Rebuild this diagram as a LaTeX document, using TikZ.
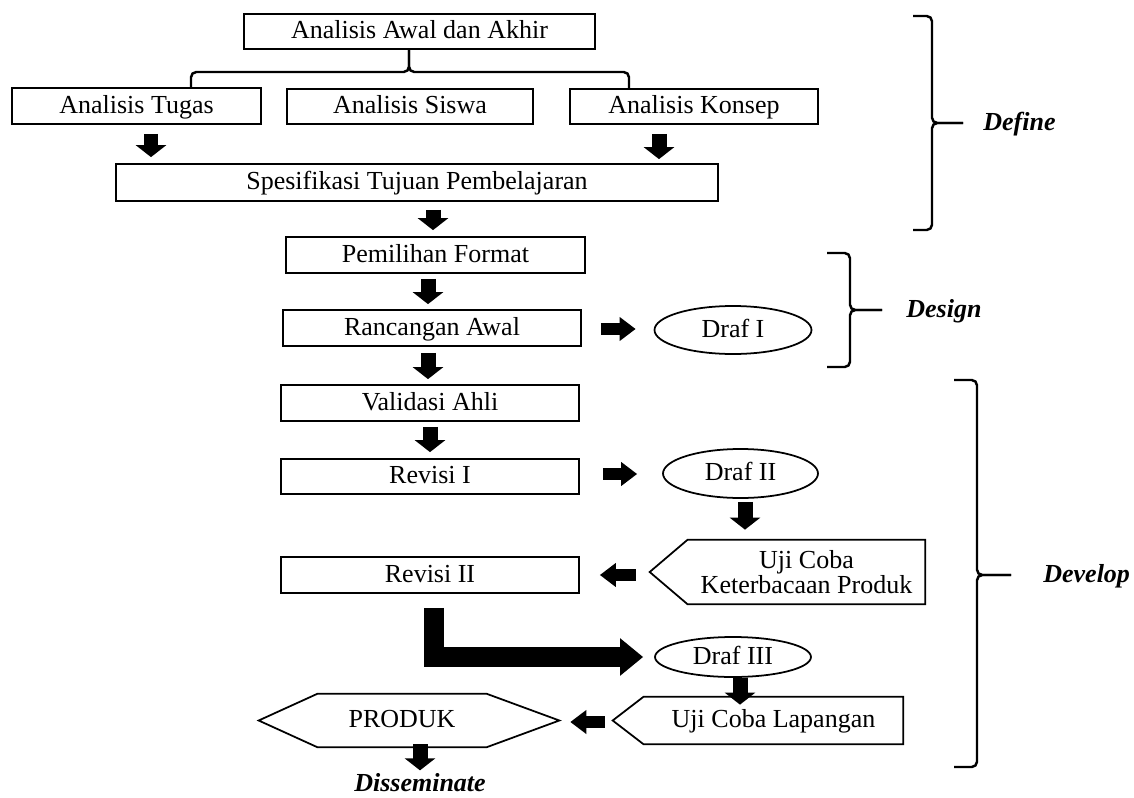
\documentclass[tikz,border=0pt]{standalone}
\usepackage{fontspec}
\setmainfont{Liberation Serif}
\usetikzlibrary{arrows.meta,shapes.geometric}

\begin{document}
\begin{tikzpicture}[x=0.02cm, y=-0.02cm, font=\fontsize{14.8}{17}\selectfont]
\tikzstyle{txt}=[text height=2.3ex, text depth=0.5ex]
\tikzstyle{box}=[rectangle, draw, line width=1pt, minimum width=5.96cm, minimum height=0.72cm, inner sep=0pt, txt]
\tikzstyle{draf}=[ellipse, draw, line width=1pt, minimum width=3.12cm, minimum height=0.96cm, inner sep=0pt, txt]
\tikzstyle{plain}=[rectangle, minimum height=0.94cm, inner sep=0pt]
\tikzstyle{outl}=[line width=1pt]
\tikzstyle{phase}=[font=\fontsize{14.8}{17}\selectfont\bfseries\itshape, inner sep=0pt, txt]
\tikzstyle{brc}=[line width=1.4pt, rounded corners=3pt]
\tikzstyle{vblk}=[line width=0.3cm, -{Triangle[length=0.24cm, width=0.6cm]}]
\tikzstyle{hblk}=[line width=0.24cm, -{Triangle[length=0.32cm, width=0.46cm]}]
\tikzstyle{bigblk}=[line width=0.4cm, line join=miter, -{Triangle[length=0.46cm, width=0.72cm]}]

\useasboundingbox (0,0) rectangle (1134,798);

% define
\node[box, minimum width=7.02cm, minimum height=0.7cm] (AA) at (419.5,31.5) {Analisis Awal dan Akhir};
\node[box, minimum width=4.98cm] (AT) at (136.5,106) {Analisis Tugas};
\node[box, minimum width=4.92cm, minimum height=0.7cm] (AS) at (410,106.5) {Analisis Siswa};
\node[box, minimum width=4.96cm, minimum height=0.7cm] (AK) at (694,106.5) {Analisis Konsep};
\node[box, minimum width=12.04cm, minimum height=0.74cm] (SP) at (417,182.5) {Spesifikasi Tujuan Pembelajaran};

% design
\node[box, minimum width=5.98cm] (PF) at (435.5,255) {Pemilihan Format};
\node[box] (RA) at (432,328) {Rancangan Awal};
\node[draf, minimum width=3.14cm] (D1) at (733,330) {Draf I};

% develop
\node[box] (VA) at (430,403) {Validasi Ahli};
\node[box, minimum height=0.7cm] (RI) at (430,476.5) {Revisi I};
\node[draf, minimum width=3.1cm, minimum height=0.98cm] (D2) at (740.5,473.5) {Draf II};
\node[plain, minimum width=4.74cm, minimum height=1.28cm, align=center, font=\fontsize{14.8}{14.5}\selectfont] (UK) at (806.5,572) {Uji Coba\\Keterbacaan Produk};
\node[box] (R2) at (430,575) {Revisi II};
\node[draf, minimum height=0.8cm] (D3) at (733,657) {Draf III};
\node[plain, txt, minimum width=5.18cm] (UL) at (773.5,720.5) {Uji Coba Lapangan};
\node[plain, txt, minimum width=3.36cm, minimum height=1.06cm] (PR) at (402,720.5) {PRODUK};

\draw[outl] (UK.north east) -- (UK.north west) -- ([xshift=-0.76cm]UK.west) -- (UK.south west) -- (UK.south east) -- cycle;
\draw[outl] (UL.north east) -- (UL.north west) -- ([xshift=-0.62cm]UL.west) -- (UL.south west) -- (UL.south east) -- cycle;
\draw[outl] (PR.north east) -- (PR.north west) -- ([xshift=-1.18cm]PR.west) -- (PR.south west) -- (PR.south east) -- ([xshift=1.46cm]PR.east) -- cycle;

% phases
\node[phase, anchor=west] (DF) at (983,123) {Define};
\node[phase, anchor=west] (DS) at (906,310) {Design};
\node[phase, anchor=west] (DV) at (1043,575) {Develop};
\node[phase] (DM) at (420,784) {Disseminate};

% braces
\draw[brc] (AT.north -| 191,0) |- (409,72) -- (AA.south -| 409,0);
\draw[brc] (AK.north -| 629,0) |- (409,72) -- (AA.south -| 409,0);

\draw[brc] (913,16) -| (932,123) -- ([xshift=-0.4cm]DF.west);
\draw[brc] (913,230) -| (932,123) -- ([xshift=-0.4cm]DF.west);
\draw[brc] (827,253) -| (850,310) -- ([xshift=-0.48cm]DS.west);
\draw[brc] (827,367) -| (850,310) -- ([xshift=-0.48cm]DS.west);
\draw[brc] (954,380) -| (977,575) -- ([xshift=-0.64cm]DV.west);
\draw[brc] (954,767) -| (977,575) -- ([xshift=-0.64cm]DV.west);

% arrows
\draw[vblk, shorten <=0.18cm, shorten >=0.12cm] (AT.south -| 151,0) -- (SP.north -| 151,0);
\draw[vblk, shorten <=0.18cm, shorten >=0.08cm] (AK.south -| 659,0) -- (SP.north -| 659,0);
\draw[vblk, shorten <=0.16cm, shorten >=0.12cm] (SP.south -| 433,0) -- (PF.north -| 433,0);
\draw[vblk, shorten <=0.1cm, shorten >=0.1cm] (PF.south -| 428,0) -- (RA.north -| 428,0);
\draw[vblk, shorten <=0.12cm, shorten >=0.1cm] (RA.south -| 428,0) -- (VA.north -| 428,0);
\draw[vblk, shorten <=0.1cm, shorten >=0.12cm] (VA.south -| 430,0) -- (RI.north -| 430,0);
\draw[hblk, shorten <=0.38cm, shorten >=0.36cm] (RA.east |- 0,329) -- (D1.west |- 0,329);
\draw[hblk, shorten <=0.46cm, shorten >=0.5cm] (RI.east |- 0,474) -- (D2.west |- 0,474);
\draw[vblk, shorten <=0.06cm, shorten >=0.2cm] (D2.south -| 745,0) -- (UK.north -| 745,0);
\draw[hblk, shorten <=1.04cm, shorten >=0.4cm] (UK.west |- 0,575) -- (R2.east |- 0,575);
\draw[bigblk, shorten <=0.28cm, shorten >=0.22cm] (R2.south -| 434,0) |- (D3.west);
\draw[vblk, shorten >=-0.16cm] (D3.south -| 740,0) -- (UL.north -| 740,0);
\draw[hblk, shorten <=0.78cm, shorten >=1.68cm] (UL.west |- 0,722) -- (PR.east |- 0,722);
\draw[vblk, shorten <=-0.06cm, shorten >=0.04cm] (PR.south -| 420,0) -- (DM.north -| 420,0);

\end{tikzpicture}
\end{document}
